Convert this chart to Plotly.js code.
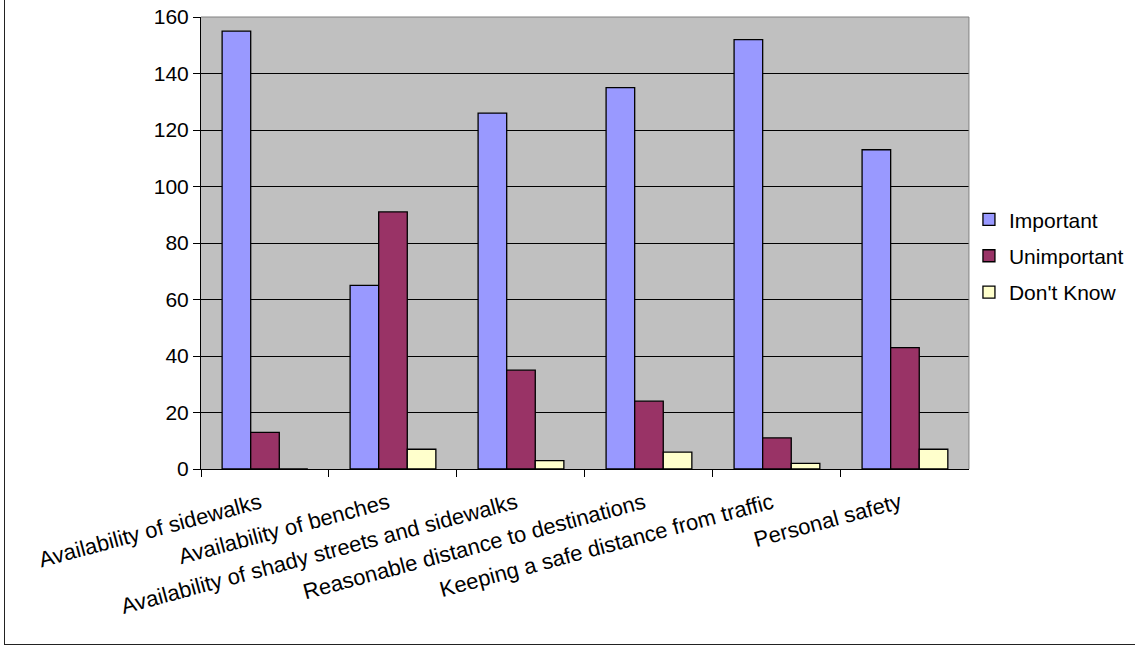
<!DOCTYPE html>
<html>
<head>
<meta charset="utf-8">
<script src="https://cdn.plot.ly/plotly-3.0.1.min.js"></script>
<style>
  html, body { margin: 0; padding: 0; background: #fff; }
  #wrap { position: relative; width: 1135px; height: 646px; }
  #chart { width: 1135px; height: 646px; }
  #frame { position: absolute; left: 4px; top: -2px; width: 1140px; height: 647px;
           border-left: 1px solid #222; border-bottom: 1px solid #222; box-sizing: border-box; pointer-events: none; }
</style>
</head>
<body>
<div id="wrap">
  <div id="chart"></div>
  <div id="frame"></div>
</div>
<script>
const categories = [
  "Availability of sidewalks",
  "Availability of benches",
  "Availability of shady streets and sidewalks",
  "Reasonable distance to destinations",
  "Keeping a safe distance from traffic",
  "Personal safety"
];
const important   = [155, 65, 126, 135, 152, 113];
const unimportant = [13, 91, 35, 24, 11, 43];
const dontKnow    = [0, 7, 3, 6, 2, 7];
const seriesNames = ["Important", "Unimportant", "Don't Know"];
const yTicks = [0, 20, 40, 60, 80, 100, 120, 140, 160];

const colors = ["#9999FF", "#993366", "#FFFFCC"];
const values = [important, unimportant, dontKnow];

const traces = values.map((v, i) => ({
  type: "bar",
  name: seriesNames[i],
  x: categories,
  y: v,
  legendgroup: "g" + i,
  marker: { color: colors[i], line: { color: "#000", width: 1.3 } },
  hoverinfo: "x+y+name"
}));

const fontFam = "Liberation Sans, Arial, sans-serif";

const layout = {
  width: 1135,
  height: 646,
  margin: { l: 201, r: 166, t: 17, b: 177, pad: 0 },
  paper_bgcolor: "#ffffff",
  plot_bgcolor: "#C0C0C0",
  font: { family: fontFam, size: 21, color: "#000" },
  barmode: "group",
  bargap: 0.33,
  bargroupgap: 0,
  showlegend: true,
  legend: {
    xref: "container", yref: "container",
    x: 0.8537, xanchor: "left",
    y: 0.604, yanchor: "middle",
    font: { family: fontFam, size: 21, color: "#000" },
    bgcolor: "rgba(0,0,0,0)",
    tracegroupgap: 6,
    traceorder: "grouped"
  },
  xaxis: {
    type: "category",
    tickangle: -15,
    tickson: "boundaries",
    ticks: "outside",
    ticklen: 7,
    tickcolor: "#000",
    showline: true,
    linecolor: "#000",
    linewidth: 1,
    showgrid: false,
    ticklabelstandoff: 12,
    ticklabelshift: -5,
    tickfont: { family: fontFam, size: 22, color: "#000" },
    automargin: false
  },
  yaxis: {
    range: [0, 160],
    tickvals: yTicks,
    ticktext: yTicks.map(String),
    ticks: "outside",
    ticklen: 7,
    tickcolor: "#000",
    showline: true,
    linecolor: "#000",
    linewidth: 1,
    showgrid: true,
    gridcolor: "#000",
    gridwidth: 1,
    zeroline: false,
    tickfont: { family: fontFam, size: 21, color: "#000" },
    automargin: false
  },
  shapes: [
    { type: "line", xref: "paper", yref: "paper", x0: 0, x1: 1, y0: 1, y1: 1,
      line: { color: "#808080", width: 1 }, layer: "above" },
    { type: "line", xref: "paper", yref: "paper", x0: 1, x1: 1, y0: 0, y1: 1,
      line: { color: "#808080", width: 1 }, layer: "above" }
  ]
};

Plotly.newPlot("chart", traces, layout, { displayModeBar: false, staticPlot: true });
</script>
</body>
</html>
